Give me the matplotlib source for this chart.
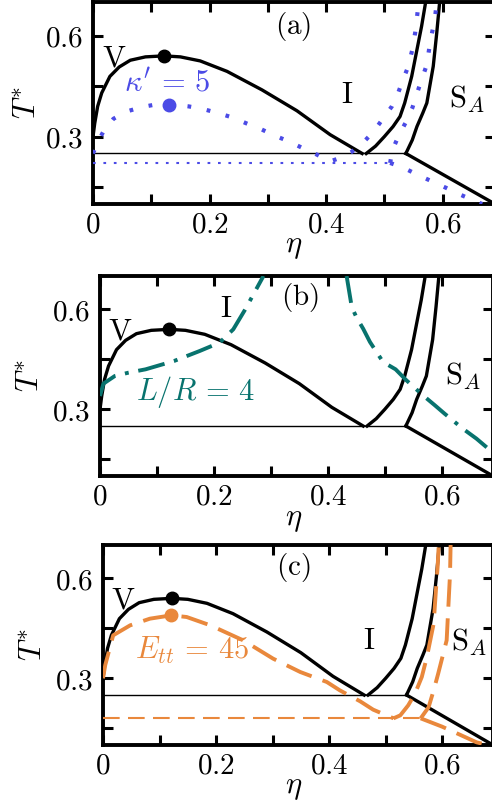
import matplotlib
matplotlib.use("Agg")
import matplotlib.pyplot as plt

plt.rcParams["mathtext.fontset"] = "cm"
plt.rcParams["font.family"] = ["DejaVu Serif"]

# ---------------- reference phase diagram (black) ----------------
vap_eta = [0.0, 0.003, 0.008, 0.015, 0.029, 0.045, 0.064, 0.09, 0.122, 0.15,
           0.184, 0.23, 0.29, 0.35, 0.407, 0.462]
vap_T = [0.30, 0.34, 0.39, 0.43, 0.479, 0.507, 0.527, 0.537, 0.54, 0.537,
         0.525, 0.494, 0.439, 0.377, 0.306, 0.25]
iso_eta = [0.469, 0.485, 0.50, 0.515, 0.527, 0.535, 0.547, 0.556, 0.564, 0.571]
iso_T = [0.25, 0.272, 0.30, 0.33, 0.36, 0.40, 0.479, 0.558, 0.628, 0.70]
sm_eta = [0.537, 0.548, 0.556, 0.566, 0.573, 0.584, 0.59, 0.595]
sm_T = [0.25, 0.29, 0.33, 0.37, 0.40, 0.509, 0.608, 0.70]
triple_eta = [0.0, 0.537]
triple_T = [0.25, 0.25]
low_eta = [0.537, 0.69]
low_T = [0.25, 0.10]
crit_eta, crit_T = 0.122, 0.54

# ---------------- (a) kappa' = 5 (blue dotted) ----------------
a_vap_eta = [0.0, 0.006, 0.018, 0.035, 0.058, 0.084, 0.106, 0.129, 0.164, 0.189,
             0.215, 0.241, 0.264, 0.29, 0.312, 0.336, 0.36, 0.384, 0.406,
             0.421, 0.444, 0.464, 0.482, 0.497, 0.513, 0.524, 0.532, 0.541,
             0.548, 0.553, 0.556, 0.559]
a_vap_T = [0.25, 0.276, 0.316, 0.353, 0.375, 0.388, 0.395, 0.397, 0.39, 0.382,
           0.37, 0.356, 0.339, 0.321, 0.303, 0.286, 0.266, 0.247, 0.226,
           0.235, 0.255, 0.283, 0.316, 0.352, 0.39, 0.431, 0.469, 0.508,
           0.558, 0.609, 0.653, 0.70]
a_sm_eta = [0.51, 0.514, 0.525, 0.537, 0.548, 0.556, 0.564, 0.573, 0.577, 0.582, 0.587, 0.59]
a_sm_T = [0.222, 0.261, 0.304, 0.343, 0.385, 0.428, 0.469, 0.514, 0.561, 0.609, 0.653, 0.70]
a_low_eta = [0.51, 0.536, 0.558, 0.582, 0.606, 0.63, 0.653, 0.668]
a_low_T = [0.222, 0.205, 0.186, 0.167, 0.148, 0.128, 0.111, 0.10]
a_triple_eta = [0.0, 0.51]
a_triple_T = [0.222, 0.222]
a_crit_eta, a_crit_T = 0.13, 0.395

# ---------------- (b) L/R = 4 (teal dash-dot) ----------------
b_left_eta = [0.0, 0.006, 0.026, 0.05, 0.08, 0.13, 0.175, 0.21, 0.234, 0.254, 0.287]
b_left_T = [0.34, 0.377, 0.40, 0.41, 0.42, 0.445, 0.475, 0.50, 0.54, 0.597, 0.70]
b_right_eta = [0.433, 0.442, 0.45, 0.462, 0.474, 0.497, 0.519, 0.538, 0.567, 0.588,
               0.605, 0.637, 0.661, 0.69]
b_right_T = [0.70, 0.607, 0.577, 0.542, 0.502, 0.442, 0.42, 0.387, 0.342, 0.312,
             0.287, 0.242, 0.212, 0.17]

# ---------------- (c) E_tt = 45 (orange dashed) ----------------
c_vap_eta = [0.0, 0.004, 0.018, 0.048, 0.083, 0.121, 0.148, 0.19, 0.248, 0.301,
             0.349, 0.396, 0.419, 0.455, 0.478, 0.514]
c_vap_T = [0.30, 0.34, 0.429, 0.459, 0.479, 0.489, 0.484, 0.459, 0.414, 0.359,
           0.319, 0.289, 0.264, 0.231, 0.206, 0.18]
c_iso_eta = [0.514, 0.526, 0.54, 0.552, 0.564, 0.573, 0.579, 0.585, 0.589, 0.592, 0.594]
c_iso_T = [0.18, 0.189, 0.219, 0.254, 0.304, 0.364, 0.414, 0.464, 0.564, 0.634, 0.70]
c_sm_eta = [0.562, 0.576, 0.585, 0.593, 0.602, 0.608, 0.611, 0.614, 0.615]
c_sm_T = [0.18, 0.213, 0.264, 0.314, 0.374, 0.414, 0.514, 0.614, 0.70]
c_low_eta = [0.562, 0.6, 0.63, 0.661, 0.68]
c_low_T = [0.18, 0.155, 0.132, 0.108, 0.10]
c_triple_eta = [0.0, 0.562]
c_triple_T = [0.18, 0.18]
c_crit_eta, c_crit_T = 0.121, 0.489

BLUE = "#4B4BE6"
TEAL = "#08736E"
ORANGE = "#E9883C"

xticks = [0.0, 0.1, 0.2, 0.3, 0.4, 0.5, 0.6]
xlabels = ["$0$", "", "$0.2$", "", "$0.4$", "", "$0.6$"]
yticks = [0.15, 0.3, 0.45, 0.6]
ylabels = ["", "$0.3$", "", "$0.6$"]

W, H = 492, 810
fig = plt.figure(figsize=(W / 100, H / 100), dpi=100)

# (left px, top px, width px, bottom px, y-label centre px)
boxes = [(93, 2, 402, 204, 27), (100, 276, 393, 476, 30), (103, 545, 390, 745, 33)]
axes = []
TS = 21
LW = 2.4
for left, top, width, bottom, ylab_x in boxes:
    h = bottom - top
    ax = fig.add_axes([left / W, 1 - bottom / H, width / W, h / H])
    axes.append(ax)
    ax.set_xlim(0, 0.69)
    ax.set_ylim(0.1, 0.7)
    ax.set_xticks(xticks)
    ax.set_xticklabels(xlabels)
    ax.set_yticks(yticks)
    ax.set_yticklabels(ylabels)
    ax.tick_params(direction="in", length=7, width=2.2, top=True, right=True,
                   labelsize=TS)
    ax.tick_params(axis="x", pad=5)
    ax.tick_params(axis="y", pad=7)
    for s in ax.spines.values():
        s.set_linewidth(2.8)
    ax.set_xlabel(r"$\eta$", fontsize=TS + 1, va="center")
    ax.xaxis.set_label_coords((294 - left) / width, -42 / h)
    ax.set_ylabel(r"$T^{*}$", fontsize=TS + 1, va="center")
    ax.yaxis.set_label_coords((ylab_x - left) / width, 0.5)
    # reference diagram
    ax.plot(vap_eta, vap_T, color="black", lw=LW, zorder=3)
    ax.plot(iso_eta, iso_T, color="black", lw=LW, zorder=3)
    ax.plot(sm_eta, sm_T, color="black", lw=LW, zorder=3)
    ax.plot(low_eta, low_T, color="black", lw=LW, zorder=3)
    ax.plot(triple_eta, triple_T, color="black", lw=1.0, zorder=3)
    ax.plot([crit_eta], [crit_T], "o", color="black", ms=9, zorder=5)
    ax.text(0.036, 0.535, r"$\mathrm{V}$", fontsize=TS + 1, ha="center", va="center")

axa, axb, axc = axes

# (a)
dot = dict(color=BLUE, lw=3.0, linestyle=(0, (0.9, 3.8)), dash_capstyle="butt", zorder=4)
axa.plot(a_vap_eta, a_vap_T, **dot)
axa.plot(a_sm_eta, a_sm_T, **dot)
axa.plot(a_low_eta, a_low_T, **dot)
axa.plot(a_triple_eta, a_triple_T, color=BLUE, lw=1.5, linestyle=(0, (1.3, 3.7)), zorder=4)
axa.plot([a_crit_eta], [a_crit_T], "o", color=BLUE, ms=9, zorder=5)
axa.text(0.343, 0.627, r"$\mathrm{(a)}$", fontsize=TS, ha="center", va="center")
axa.text(0.127, 0.46, r"$\kappa'\,=\,5$", fontsize=TS + 1, ha="center", va="center", color=BLUE)
axa.text(0.436, 0.425, r"$\mathrm{I}$", fontsize=TS + 1, ha="center", va="center")
axa.text(0.642, 0.41, r"$\mathrm{S}_A$", fontsize=TS + 1, ha="center", va="center")

# (b)
dd = dict(color=TEAL, lw=2.8, linestyle=(0, (7, 2.5, 1, 2.5)), zorder=4)
axb.plot(b_left_eta, b_left_T, **dd)
axb.plot(b_right_eta, b_right_T, **dd)
axb.text(0.351, 0.636, r"$\mathrm{(b)}$", fontsize=TS, ha="center", va="center")
axb.text(0.222, 0.603, r"$\mathrm{I}$", fontsize=TS + 1, ha="center", va="center")
axb.text(0.167, 0.352, r"$L/R\,=\,4$", fontsize=TS + 1, ha="center", va="center", color=TEAL)
axb.text(0.637, 0.40, r"$\mathrm{S}_A$", fontsize=TS + 1, ha="center", va="center")

# (c)
da = dict(color=ORANGE, lw=2.8, linestyle=(0, (7, 3)), zorder=4)
axc.plot(c_vap_eta, c_vap_T, **da)
axc.plot(c_iso_eta, c_iso_T, **da)
axc.plot(c_sm_eta, c_sm_T, **da)
axc.plot(c_low_eta, c_low_T, **da)
axc.plot(c_triple_eta, c_triple_T, color=ORANGE, lw=1.5, linestyle=(0, (8, 4)), zorder=4)
axc.plot([c_crit_eta], [c_crit_T], "o", color=ORANGE, ms=9, zorder=5)
axc.text(0.337, 0.634, r"$\mathrm{(c)}$", fontsize=TS, ha="center", va="center")
axc.text(0.157, 0.384, r"$E_{tt}\,=\,45$", fontsize=TS + 1, ha="center", va="center", color=ORANGE)
axc.text(0.47, 0.414, r"$\mathrm{I}$", fontsize=TS + 1, ha="center", va="center")
axc.text(0.647, 0.409, r"$\mathrm{S}_A$", fontsize=TS + 1, ha="center", va="center")

fig.savefig("out.png", dpi=100)
